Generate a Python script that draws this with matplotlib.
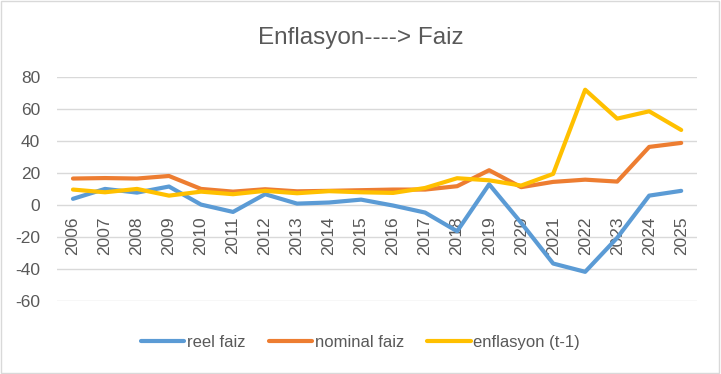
import matplotlib
matplotlib.use("Agg")
import matplotlib.pyplot as plt
from matplotlib.patches import Rectangle

years = [str(y) for y in range(2006, 2026)]
reel_faiz = [4.0, 10.2, 7.9, 11.7, 0.4, -4.2, 6.9, 1.0, 1.7, 3.5,
             -0.2, -4.6, -16.3, 13.1, -11.0, -36.5, -41.7, -20.4, 6.0, 9.0]
nominal_faiz = [16.7, 17.0, 16.7, 18.3, 10.2, 8.5, 10.0, 8.7, 9.0, 9.4,
                9.8, 9.8, 11.9, 21.9, 11.3, 14.6, 16.0, 14.8, 36.5, 39.0]
enflasyon = [9.8, 8.1, 10.2, 6.0, 8.5, 6.9, 9.0, 7.5, 8.8, 8.1,
             7.7, 10.8, 16.9, 15.6, 12.3, 19.6, 72.3, 54.2, 58.8, 47.1]
y_ticks = [-60, -40, -20, 0, 20, 40, 60, 80]
series_names = ["reel faiz", "nominal faiz", "enflasyon (t-1)"]
colors = ["#5B9BD5", "#ED7D31", "#FFC000"]

plt.rcParams['font.family'] = ['Liberation Sans', 'DejaVu Sans']
txt = "#595959"

fig = plt.figure(figsize=(7.21, 3.74), dpi=100)
ax = fig.add_axes([0.079, 0.195, 0.888, 0.598])

x = list(range(len(years)))
for vals, name, c in zip([reel_faiz, nominal_faiz, enflasyon], series_names, colors):
    ax.plot(x, vals, color=c, lw=3.0, label=name, solid_capstyle='round', solid_joinstyle='round')

ax.set_xlim(-0.5, len(years) - 0.5)
ax.set_ylim(-60, 80)
ax.set_yticks(y_ticks)
ax.set_yticklabels([str(v) for v in y_ticks], color=txt, fontsize=12.5)
ax.yaxis.grid(True, color="#D9D9D9", lw=1.0)
ax.set_axisbelow(True)
for s in ax.spines.values():
    s.set_visible(False)
ax.spines['bottom'].set_position(('data', 0))
ax.set_xticks(x)
ax.set_xticklabels(years, rotation=90, color=txt, fontsize=12.5, va='top')
ax.tick_params(axis='both', length=0)
ax.tick_params(axis='x', pad=8)
ax.tick_params(axis='y', pad=12)

fig.text(0.5, 0.898, "Enflasyon----> Faiz", ha='center', va='center', fontsize=17.5, color=txt)

leg = fig.legend(loc='center', bbox_to_anchor=(0.5, 0.085), ncol=3, frameon=False,
                 fontsize=12, handlelength=2.6, handletextpad=0.15, columnspacing=1.4,
                 labelcolor=txt)

fig.patches.append(Rectangle((0.002, 0.003), 0.995, 0.994, transform=fig.transFigure,
                             fill=False, edgecolor="#D9D9D9", lw=1.0))

fig.savefig("out.png", dpi=100)
